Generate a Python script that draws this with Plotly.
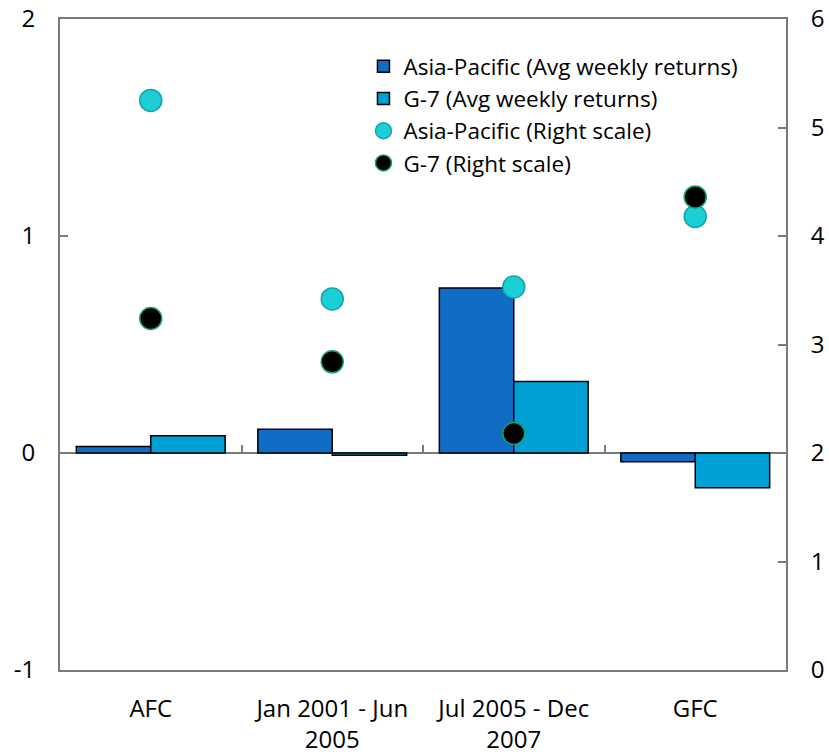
import plotly.graph_objects as go

# Periods shown on the category axis
categories = ["AFC", "Jan 2001 - Jun<br>2005", "Jul 2005 - Dec<br>2007", "GFC"]

# Average weekly returns (left scale, per cent)
ap_returns = [0.03, 0.11, 0.76, -0.04]
g7_returns = [0.08, -0.01, 0.33, -0.16]

# Volatility (right scale)
ap_right = [5.25, 3.42, 3.53, 4.18]
g7_right = [3.24, 2.84, 2.18, 4.36]

# Tick labels for both value axes
left_ticks = [-1, 0, 1, 2]
left_labels = ["-1", "0", "1", "2"]
right_ticks = [0, 1, 2, 3, 4, 5, 6]
right_labels = ["0", "1", "2", "3", "4", "5", "6"]

font_family = "Open Sans, Noto Sans, sans-serif"
axis_grey = "#7a7a7a"

fig = go.Figure()

fig.add_trace(go.Bar(
    x=categories, y=ap_returns, name="Asia-Pacific (Avg weekly returns)",
    marker=dict(color="#106cc4", line=dict(color="black", width=1.5)),
))
fig.add_trace(go.Bar(
    x=categories, y=g7_returns, name="G-7 (Avg weekly returns)",
    marker=dict(color="#009fd6", line=dict(color="black", width=1.5)),
))
fig.add_trace(go.Scatter(
    x=categories, y=ap_right, name="Asia-Pacific (Right scale)", mode="markers",
    yaxis="y2",
    marker=dict(size=22, color="#1ccfd6", line=dict(color="#13a3a8", width=1.5)),
))
fig.add_trace(go.Scatter(
    x=categories, y=g7_right, name="G-7 (Right scale)", mode="markers",
    yaxis="y2",
    marker=dict(size=22, color="black", line=dict(color="#13a07a", width=1.5)),
))

# invisible helper trace so the category tick axis at the zero line has data
fig.add_trace(go.Scatter(
    x=categories, y=[None] * len(categories), xaxis="x2", showlegend=False,
    hoverinfo="skip",
))

fig.update_layout(
    width=829, height=755,
    margin=dict(l=60, r=43, t=19, b=85, autoexpand=False),
    paper_bgcolor="white", plot_bgcolor="white",
    font=dict(family=font_family, size=24, color="black"),
    barmode="group", bargap=0.18, bargroupgap=0,
    showlegend=True,
    legend=dict(
        x=0.418, y=0.96, xanchor="left", yanchor="top",
        bgcolor="rgba(0,0,0,0)", font=dict(size=22.5),
        itemwidth=30, tracegroupgap=0,
    ),
    xaxis=dict(
        type="category", showgrid=False, showline=True, mirror=True,
        linecolor=axis_grey, linewidth=2, ticks="", ticklabelstandoff=16,
        tickfont=dict(size=24), automargin=False,
    ),
    xaxis2=dict(
        type="category", overlaying="x", anchor="free", position=1 / 3,
        side="bottom", range=[-0.5, 3.5], tickmode="array",
        tickvals=[0.5, 1.5, 2.5], ticktext=["", "", ""], showticklabels=False,
        ticks="inside", ticklen=8, tickwidth=2, tickcolor=axis_grey,
        showgrid=False, showline=False, zeroline=False, automargin=False,
    ),
    yaxis=dict(
        range=[-1, 2], tickmode="array", tickvals=left_ticks,
        ticktext=left_labels, showgrid=False,
        showline=True, linecolor=axis_grey, linewidth=2,
        ticks="inside", ticklen=8, tickwidth=2, tickcolor=axis_grey,
        zeroline=True, zerolinecolor=axis_grey, zerolinewidth=2,
        ticklabelstandoff=18, tickfont=dict(size=24), automargin=False,
    ),
    yaxis2=dict(
        range=[0, 6], tickmode="array", tickvals=right_ticks,
        ticktext=right_labels, overlaying="y",
        side="right", showgrid=False, showline=True, linecolor=axis_grey,
        linewidth=2, ticks="inside", ticklen=8, tickwidth=2,
        tickcolor=axis_grey, zeroline=False, ticklabelstandoff=18,
        tickfont=dict(size=24), automargin=False,
    ),
)

fig.write_html("out.html")
